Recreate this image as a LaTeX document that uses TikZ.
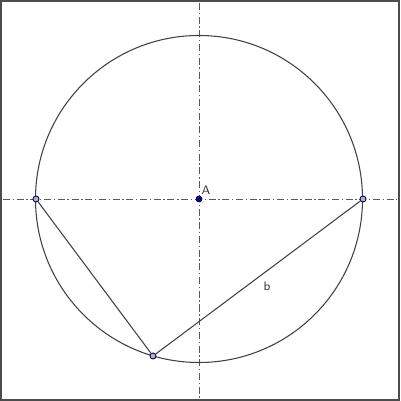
\documentclass[tikz,border=0pt]{standalone}
\usetikzlibrary{positioning}
\begin{document}
\begin{tikzpicture}[x=0.02cm,y=-0.02cm,
    axis line/.style={draw=black!65, line width=0.5pt,
      dash pattern=on 4pt off 1.5pt on 0.8pt off 1.5pt},
    geo line/.style={draw=black!75, line width=0.6pt},
    free point/.style={circle, draw=black!70!blue, fill=blue!25!black!30,
      line width=0.5pt, inner sep=0pt, minimum size=0.12cm},
    center point/.style={circle, draw=blue!40!black, fill=blue!50!black,
      inner sep=0pt, minimum size=0.12cm},
    lbl/.style={font=\fontsize{7}{8}\sffamily, text=black!80, inner sep=0pt}]

  \useasboundingbox (0,0) rectangle (400,401);
  \draw[black!70, line width=1.1pt] (1,1) rectangle (399,400);

  % axes through A
  \coordinate (West) at (3,199);
  \coordinate (East) at (397,199);
  \coordinate (North) at (199,3);
  \coordinate (South) at (199,398);
  \draw[axis line] (West) -- (East);
  \draw[axis line] (North) -- (South);

  % circle and points
  \node[center point] (A) at (199,199) {};
  \draw[geo line] (A) circle (163.5);

  \node[free point] (Left) at (36,199) {};
  \node[free point] (Right) at (363,199) {};
  \node[free point] (Bottom) at (153,356) {};

  \draw[geo line] (Left) -- (Bottom);
  \draw[geo line] (Bottom) -- (Right);

  \node[lbl] (labelA) at (206,190) {A};
  \node[lbl] (labelb) at (267,286) {b};

\end{tikzpicture}
\end{document}
